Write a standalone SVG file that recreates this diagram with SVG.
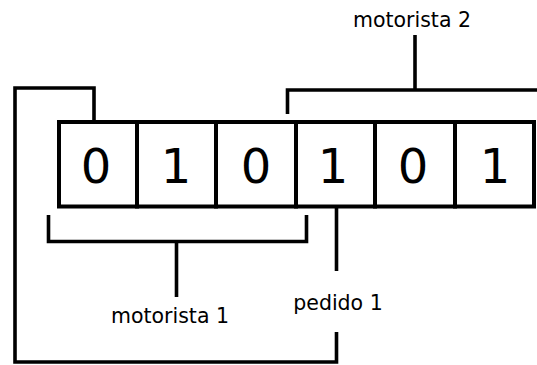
<svg xmlns="http://www.w3.org/2000/svg" width="537" height="365" viewBox="0 0 537 365">
<style>
.cell{fill:#fff;stroke:#000;stroke-width:4}
.digit{font-family:"DejaVu Sans",Verdana,sans-serif;font-size:48px;fill:#000;text-anchor:middle}
.lbl{font-family:"DejaVu Sans",Verdana,sans-serif;font-size:20.5px;fill:#000;text-anchor:middle}
.ln{fill:none;stroke:#000;stroke-width:3.6;stroke-linecap:butt;stroke-linejoin:miter}
</style>
<rect width="537" height="365" fill="#fff"/>
<g id="connectors">
<path class="ln" d="M94,121 V88 H15 V362 H336.5 V332"/>
<path class="ln" d="M287.5,114 V90 H540"/>
<path class="ln" d="M415,35 V90"/>
<path class="ln" d="M48.5,215 V241.5 H306.5 V215"/>
<path class="ln" d="M176.5,241.5 V297"/>
<path class="ln" d="M336.5,207 V271"/>
</g>
<g id="cell0"><rect class="cell" x="59" y="122" width="78" height="84.5"/><text class="digit" x="96" y="183">0</text></g>
<g id="cell1"><rect class="cell" x="137" y="122" width="79" height="84.5"/><text class="digit" x="176" y="183">1</text></g>
<g id="cell2"><rect class="cell" x="216" y="122" width="80" height="84.5"/><text class="digit" x="256" y="183">0</text></g>
<g id="cell3"><rect class="cell" x="296" y="122" width="79" height="84.5"/><text class="digit" x="333" y="183">1</text></g>
<g id="cell4"><rect class="cell" x="375" y="122" width="80" height="84.5"/><text class="digit" x="413" y="183">0</text></g>
<g id="cell5"><rect class="cell" x="455" y="122" width="79" height="84.5"/><text class="digit" x="495" y="183">1</text></g>
<g id="label-motorista2"><text class="lbl" x="412" y="27">motorista 2</text></g>
<g id="label-motorista1"><text class="lbl" x="170" y="323">motorista 1</text></g>
<g id="label-pedido1"><text class="lbl" x="338" y="310">pedido 1</text></g>
</svg>
